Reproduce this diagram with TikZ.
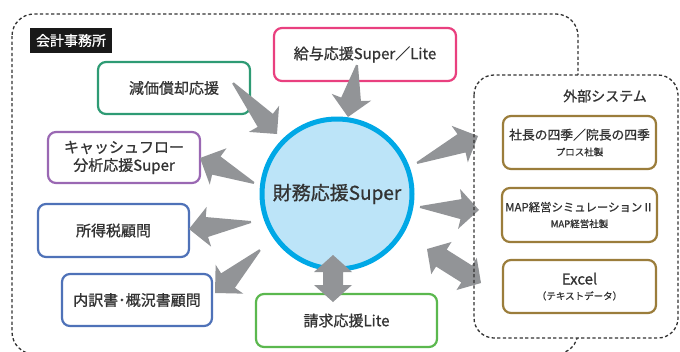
\documentclass[tikz,border=0pt]{standalone}
\usepackage{fontspec}
\setmainfont{Noto Sans CJK JP}[FakeBold=0.9]
\usetikzlibrary{calc}

\definecolor{textgray}{HTML}{333333}
\definecolor{genkagreen}{HTML}{2E9B74}
\definecolor{cfpurple}{HTML}{9A68B3}
\definecolor{taxblue}{HTML}{4F72B8}
\definecolor{kyuyopink}{HTML}{E9407F}
\definecolor{seikyugreen}{HTML}{5BB84E}
\definecolor{extgold}{HTML}{9B7D3B}
\definecolor{arrowgray}{HTML}{929497}
\definecolor{hubblue}{HTML}{00A8E6}
\definecolor{hubfill}{HTML}{BCE4F8}

\newcommand{\subsize}{\fontsize{9.5}{11}\selectfont}

\tikzset{
  frame/.style={draw=black!80, line width=1.3pt, dash pattern=on 3.2pt off 2.4pt},
  box/.style={draw=#1, line width=2.2pt, rounded corners=8pt, fill=white,
    text=textgray, align=center, font=\fontsize{15}{18}\selectfont},
  hub/.style={circle, draw=hubblue, line width=5pt, fill=hubfill,
    minimum size=150pt, text=textgray, font=\fontsize{19}{22}\selectfont},
  officelabel/.style={fill=black!90, text=white, inner xsep=6pt,
    minimum height=25pt, font=\fontsize{14}{16}\selectfont},
  framelabel/.style={text=textgray, font=\fontsize{14}{16}\selectfont}
}

% tapered block arrow
\newcommand{\taperarrow}[2]{%
  \fill[arrowgray] ($(#1)!1pt!90:(#2)$)
    -- ($(#2)!18pt!(#1)!10pt!-90:(#1)$)
    -- ($(#2)!20pt!(#1)!20pt!-90:(#1)$)
    -- (#2)
    -- ($(#2)!20pt!(#1)!20pt!90:(#1)$)
    -- ($(#2)!18pt!(#1)!10pt!90:(#1)$)
    -- ($(#1)!1pt!-90:(#2)$) -- cycle;}
% double headed block arrow
\newcommand{\dblarrow}[2]{%
  \fill[arrowgray] (#1)
    -- ($(#1)!17pt!(#2)!19pt!90:(#2)$)
    -- ($(#1)!17pt!(#2)!10pt!90:(#2)$)
    -- ($(#2)!17pt!(#1)!10pt!-90:(#1)$)
    -- ($(#2)!17pt!(#1)!19pt!-90:(#1)$)
    -- (#2)
    -- ($(#2)!17pt!(#1)!19pt!90:(#1)$)
    -- ($(#2)!17pt!(#1)!10pt!90:(#1)$)
    -- ($(#1)!17pt!(#2)!10pt!-90:(#2)$)
    -- ($(#1)!17pt!(#2)!19pt!-90:(#2)$)
    -- cycle;}

\begin{document}
\begin{tikzpicture}[x=1pt,y=-1pt]
  \useasboundingbox (0,0) rectangle (680,351);
  % office frame
  \draw[frame, rounded corners=22pt] (12,14) rectangle (578,354);
  \node[officelabel] (office) at (71,40.5) {会計事務所};
  % external frame (background)
  \fill[white, rounded corners=20pt] (474,75) rectangle (678,338);
  \node[framelabel] (extlabel) at (605,96) {外部システム};
  % hub
  \node[hub] (zaimu) at (337,194) {財務応援Super};
  % office products
  \node[box=genkagreen, minimum width=152pt, minimum height=52pt] (genka) at (174,88) {減価償却応援};
  \node[box=cfpurple, minimum width=152pt, minimum height=51pt] (cashflow) at (124,157.5) {キャッシュフロー\\分析応援Super};
  \node[box=taxblue, minimum width=151pt, minimum height=53pt] (shotoku) at (113.5,230.5) {所得税顧問};
  \node[box=taxblue, minimum width=150pt, minimum height=52pt] (uchiwake) at (137,300) {内訳書･概況書顧問};
  \node[box=kyuyopink, minimum width=182pt, minimum height=53pt] (kyuyo) at (365,54.5) {給与応援Super／Lite};
  \node[box=seikyugreen, minimum width=181pt, minimum height=53pt] (seikyu) at (346.5,320.5) {請求応援Lite};
  % external systems
  \node[box=extgold, minimum width=153pt, minimum height=53pt, font=\fontsize{12.8}{17}\selectfont] (shacho) at (579.5,142.5)
    {社長の四季／院長の四季\\[-1pt]{\subsize プロス社製}};
  \node[box=extgold, minimum width=153pt, minimum height=54pt, font=\fontsize{11.4}{17}\selectfont] (map) at (579.5,215)
    {MAP経営シミュレーションⅡ\\[-1pt]{\subsize MAP経営社製}};
  \node[box=extgold, minimum width=153pt, minimum height=53pt] (excel) at (579.5,286.5)
    {Excel\\[-3pt]{\subsize （テキストデータ）}};
  % arrow ends
  \coordinate (genka-tail) at (233,83);
  \coordinate (genka-tip) at (277,134);
  \coordinate (kyuyo-tail) at (357,65);
  \coordinate (kyuyo-tip) at (348,117);
  \coordinate (cashflow-tail) at (254,183);
  \coordinate (cashflow-tip) at (200,158);
  \coordinate (shotoku-tail) at (251,222);
  \coordinate (shotoku-tip) at (189,229);
  \coordinate (uchiwake-tail) at (260,250);
  \coordinate (uchiwake-tip) at (215,293);
  \coordinate (shacho-tail) at (417,163);
  \coordinate (shacho-tip) at (478,136);
  \coordinate (map-tail) at (420,207);
  \coordinate (map-tip) at (479,210);
  \coordinate (excel-a) at (427,249);
  \coordinate (excel-b) at (481,283);
  \coordinate (seikyu-a) at (333,255);
  \coordinate (seikyu-b) at (333,302);
  % arrows
  \taperarrow{genka-tail}{genka-tip}
  \taperarrow{kyuyo-tail}{kyuyo-tip}
  \taperarrow{cashflow-tail}{cashflow-tip}
  \taperarrow{shotoku-tail}{shotoku-tip}
  \taperarrow{uchiwake-tail}{uchiwake-tip}
  \taperarrow{shacho-tail}{shacho-tip}
  \taperarrow{map-tail}{map-tip}
  \dblarrow{excel-a}{excel-b}
  \dblarrow{seikyu-a}{seikyu-b}
  % external frame (line)
  \draw[frame, rounded corners=20pt] (474,75) rectangle (678,338);
\end{tikzpicture}
\end{document}
